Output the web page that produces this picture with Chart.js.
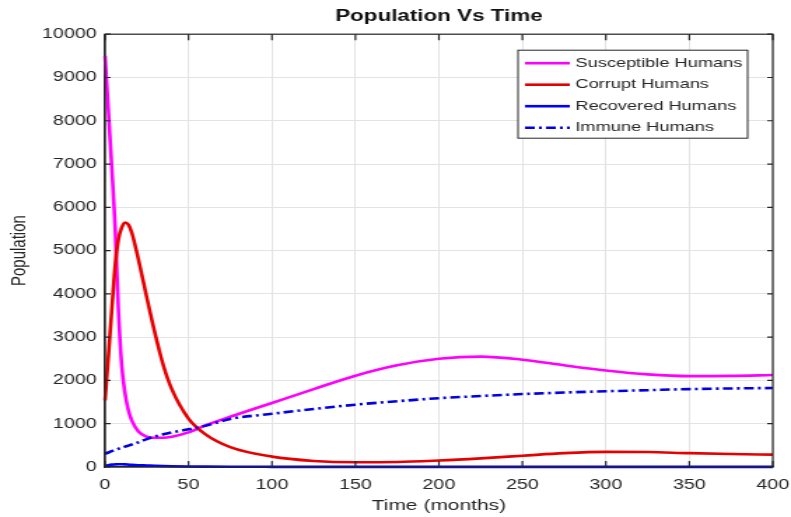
<!DOCTYPE html>
<html>
<head>
<meta charset="utf-8">
<script src="https://cdn.jsdelivr.net/npm/chart.js@4.4.1/dist/chart.umd.min.js"></script>
<style>
	html, body { margin: 0; padding: 0; background: #fff; }
	canvas { display: block; }
</style>
</head>
<body>
<!-- drawn narrow and stretched, like the scanned figure -->
<canvas id="popChart" width="565" height="517" style="width:791px;height:517px"></canvas>
<script>
// time in months
let months = [0, 2, 4, 6, 8, 10, 12, 14, 16, 20, 25, 30, 35, 40, 50, 60, 75, 100,
	125, 150, 175, 200, 225, 250, 275, 300, 325, 350, 375, 400];

let susceptible = [9500, 8250, 6950, 5600, 3650, 2350, 1700, 1310, 1080, 820, 700, 675, 675, 700, 800, 960, 1160, 1480,
	1800, 2110, 2350, 2500, 2550, 2480, 2350, 2230, 2140, 2100, 2105, 2125];
let corrupt = [1540, 2550, 3600, 4615, 5250, 5530, 5650, 5600, 5420, 4800, 3920, 3080, 2340, 1800, 1120, 760, 460, 240,
	140, 110, 115, 150, 200, 260, 320, 350, 345, 320, 300, 285];
let recovered = [20, 40, 55, 60, 62, 62, 60, 55, 50, 42, 35, 28, 22, 18, 12, 9, 6, 4,
	3, 3, 3, 3, 3, 3, 3, 3, 3, 3, 3, 3];
let immune = [305, 335, 365, 390, 420, 445, 470, 495, 520, 570, 645, 705, 755, 800, 870, 950, 1110, 1230,
	1340, 1440, 1520, 1590, 1640, 1685, 1720, 1750, 1775, 1800, 1815, 1825];

let seriesNames = ['Susceptible Humans', 'Corrupt Humans', 'Recovered Humans', 'Immune Humans'];
let xTicks = [0, 50, 100, 150, 200, 250, 300, 350, 400];
let yTicks = [0, 1000, 2000, 3000, 4000, 5000, 6000, 7000, 8000, 9000, 10000];

let textColor = '#262626';
let fontFamily = '"Liberation Sans", Arial, sans-serif';

function toPoints(vals) {
	return vals.map(function (v, i) { return {x: months[i], y: v}; });
}

function makeSet(label, vals, color, dash, order) {
	return {
		label: label,
		data: toPoints(vals),
		borderColor: color,
		backgroundColor: color,
		borderWidth: 2.6,
		borderDash: dash,
		pointRadius: 0,
		cubicInterpolationMode: 'monotone',
		fill: false,
		clip: 4,
		order: order
	};
}

// MATLAB-ish box with inward ticks + legend inside the axes
let boxPlugin = {
	id: 'matlabBox',
	afterDraw: function (chart) {
		let ctx = chart.ctx;
		let a = chart.chartArea;
		let xs = chart.scales.x;
		let ys = chart.scales.y;
		ctx.save();
		ctx.strokeStyle = textColor;
		ctx.lineWidth = 1.2;
		ctx.strokeRect(a.left, a.top, a.right - a.left, a.bottom - a.top);
		ctx.beginPath();
		xTicks.forEach(function (t) {
			let px = xs.getPixelForValue(t);
			ctx.moveTo(px, a.bottom); ctx.lineTo(px, a.bottom - 6);
			ctx.moveTo(px, a.top); ctx.lineTo(px, a.top + 6);
		});
		yTicks.forEach(function (t) {
			let py = ys.getPixelForValue(t);
			ctx.moveTo(a.left, py); ctx.lineTo(a.left + 4, py);
			ctx.moveTo(a.right, py); ctx.lineTo(a.right - 4, py);
		});
		ctx.stroke();

		// legend
		let bx = a.right - 182, by = a.top + 16, bw = 164, bh = 88;
		ctx.fillStyle = '#fff';
		ctx.fillRect(bx, by, bw, bh);
		ctx.strokeStyle = '#262626';
		ctx.lineWidth = 1;
		ctx.strokeRect(bx, by, bw, bh);
		ctx.font = '13px ' + fontFamily;
		ctx.textBaseline = 'middle';
		chart.data.datasets.forEach(function (ds, i) {
			let ry = by + 13 + i * 21.5;
			ctx.strokeStyle = ds.borderColor;
			ctx.lineWidth = 2.6;
			ctx.setLineDash(ds.borderDash || []);
			ctx.beginPath();
			ctx.moveTo(bx + 5, ry);
			ctx.lineTo(bx + 37, ry);
			ctx.stroke();
			ctx.setLineDash([]);
			ctx.fillStyle = textColor;
			ctx.fillText(ds.label, bx + 41, ry);
		});
		ctx.restore();
	}
};

let ctx = document.getElementById('popChart');
new Chart(ctx, {
	type: 'line',
	data: {
		datasets: [
			makeSet(seriesNames[0], susceptible, '#ff00ff', [], 3),
			makeSet(seriesNames[1], corrupt, '#e60000', [], 2),
			makeSet(seriesNames[2], recovered, '#0000ff', [], 1),
			makeSet(seriesNames[3], immune, '#0000e0', [7, 3, 2, 3], 0)
		]
	},
	plugins: [boxPlugin],
	options: {
		responsive: false,
		animation: false,
		layout: {padding: {top: 0, right: 0, left: 0, bottom: 0}},
		plugins: {
			legend: {display: false},
			tooltip: {enabled: false},
			title: {
				display: true,
				text: 'Population Vs Time',
				fullSize: false,
				color: '#111',
				font: {family: fontFamily, size: 16, weight: 'bold'},
				padding: {top: 7, bottom: 8}
			}
		},
		scales: {
			x: {
				type: 'linear',
				min: 0,
				max: 400,
				afterFit: function (scale) {
					scale.height = 50;
					scale.paddingLeft = 0;
					scale.paddingRight = 13;
				},
				afterBuildTicks: function (scale) {
					scale.ticks = xTicks.map(function (v) { return {value: v}; });
				},
				grid: {color: '#e3e3e3', drawTicks: false},
				border: {display: true, color: textColor, width: 1.2},
				ticks: {
					color: textColor,
					font: {family: fontFamily, size: 14},
					padding: 10,
					autoSkip: false,
					maxRotation: 0
				},
				title: {
					display: true,
					text: 'Time (months)',
					color: textColor,
					font: {family: fontFamily, size: 15},
					padding: {top: 2, bottom: 2}
				}
			},
			y: {
				type: 'linear',
				min: 0,
				max: 10000,
				afterFit: function (scale) { scale.width = 75; },
				afterBuildTicks: function (scale) {
					scale.ticks = yTicks.map(function (v) { return {value: v}; });
				},
				grid: {color: '#e3e3e3', drawTicks: false},
				border: {display: true, color: textColor, width: 1.2},
				ticks: {
					color: textColor,
					font: {family: fontFamily, size: 14},
					padding: 6,
					autoSkip: false,
					callback: function (v) { return String(v); }
				},
				title: {
					display: true,
					text: 'Population',
					color: textColor,
					font: {family: fontFamily, size: 15},
					padding: {top: 5, bottom: 2}
				}
			}
		}
	}
});
</script>
</body>
</html>
